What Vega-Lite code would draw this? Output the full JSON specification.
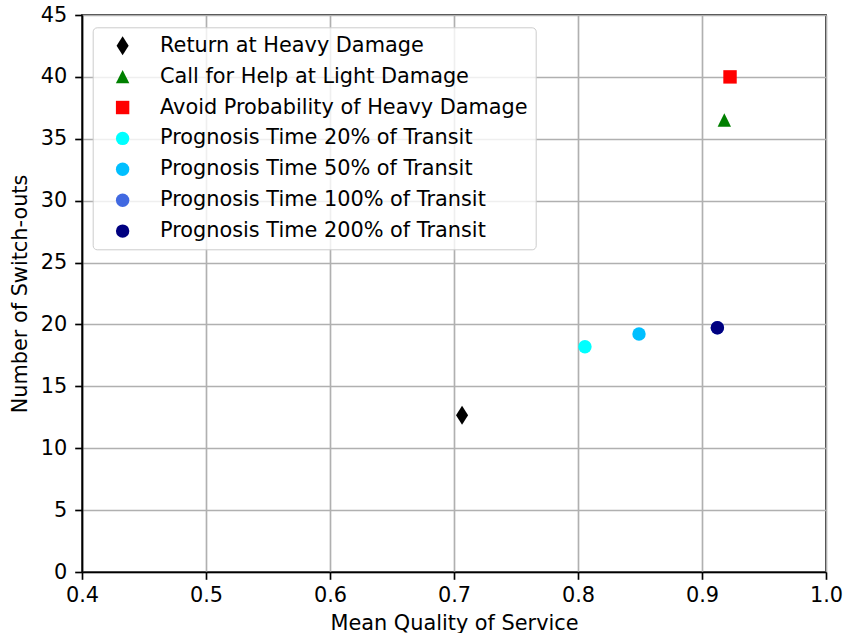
{
  "$schema": "https://vega.github.io/schema/vega-lite/v6.json",
  "width": 744,
  "height": 557,
  "autosize": {"type": "none"},
  "padding": {"left": 82, "top": 15, "right": 17, "bottom": 61},
  "background": "white",
  "config": {
    "font": "DejaVu Sans",
    "view": {"stroke": "black", "strokeWidth": 1.67}
  },
  "data": {
    "values": [
      {"k": 1, "series": "Return at Heavy Damage", "q": 0.7065, "n": 12.66},
      {"k": 2, "series": "Call for Help at Light Damage", "q": 0.918, "n": 36.52},
      {"k": 3, "series": "Avoid Probability of Heavy Damage", "q": 0.9226, "n": 40.0},
      {"k": 4, "series": "Prognosis Time 20% of Transit", "q": 0.8056, "n": 18.2},
      {"k": 5, "series": "Prognosis Time 50% of Transit", "q": 0.8492, "n": 19.23},
      {"k": 6, "series": "Prognosis Time 100% of Transit", "q": 0.9124, "n": 19.73},
      {"k": 7, "series": "Prognosis Time 200% of Transit", "q": 0.9124, "n": 19.73}
    ]
  },
  "mark": {"type": "point", "filled": true, "opacity": 1, "size": 180},
  "encoding": {
    "x": {
      "field": "q", "type": "quantitative",
      "scale": {"domain": [0.4, 1.0], "nice": false, "zero": false},
      "axis": {
        "title": "Mean Quality of Service",
        "values": [0.4, 0.5, 0.6, 0.7, 0.8, 0.9, 1.0],
        "format": ".1f",
        "grid": true, "gridColor": "#b0b0b0", "gridWidth": 1.67,
        "domainColor": "black", "domainWidth": 1.67, "tickColor": "black", "tickWidth": 1.67, "tickSize": 7.3,
        "labelFlush": false, "labelOverlap": false,
        "labelFontSize": 20.83, "labelColor": "black", "labelPadding": 6,
        "titleFontSize": 20.83, "titleFontWeight": "normal", "titleColor": "black", "titlePadding": 8
      }
    },
    "y": {
      "field": "n", "type": "quantitative",
      "scale": {"domain": [0, 45], "nice": false},
      "axis": {
        "title": "Number of Switch-outs",
        "values": [0, 5, 10, 15, 20, 25, 30, 35, 40, 45],
        "grid": true, "gridColor": "#b0b0b0", "gridWidth": 1.67,
        "domainColor": "black", "domainWidth": 1.67, "tickColor": "black", "tickWidth": 1.67, "tickSize": 7.3,
        "labelFlush": false, "labelOverlap": false,
        "labelFontSize": 20.83, "labelColor": "black", "labelPadding": 8,
        "titleFontSize": 20.83, "titleFontWeight": "normal", "titleColor": "black", "titlePadding": 10
      }
    },
    "color": {
      "field": "series", "type": "nominal",
      "scale": {
        "domain": ["Return at Heavy Damage", "Call for Help at Light Damage", "Avoid Probability of Heavy Damage", "Prognosis Time 20% of Transit", "Prognosis Time 50% of Transit", "Prognosis Time 100% of Transit", "Prognosis Time 200% of Transit"],
        "range": ["black", "green", "red", "cyan", "deepskyblue", "royalblue", "navy"]
      },
      "legend": {
        "title": null,
        "orient": "none",
        "legendX": 10.7,
        "legendY": 12.3,
        "labelFontSize": 20.83,
        "labelColor": "black",
        "labelOffset": 27,
        "symbolSize": 180,
        "rowPadding": 8.9,
        "padding": 8,
        "offset": 0,
        "strokeColor": "#cccccc",
        "fillColor": "rgba(255,255,255,0.8)",
        "cornerRadius": 4,
        "symbolOffset": 11.5,
        "labelLimit": 500
      }
    },
    "shape": {
      "field": "series", "type": "nominal",
      "scale": {
        "domain": ["Return at Heavy Damage", "Call for Help at Light Damage", "Avoid Probability of Heavy Damage", "Prognosis Time 20% of Transit", "Prognosis Time 50% of Transit", "Prognosis Time 100% of Transit", "Prognosis Time 200% of Transit"],
        "range": ["M0,-1.42L0.9,0L0,1.42L-0.9,0Z", "M0,-1L1,1L-1,1Z", "square", "circle", "circle", "circle", "circle"]
      }
    },
    "order": {"field": "k", "type": "quantitative"}
  }
}
